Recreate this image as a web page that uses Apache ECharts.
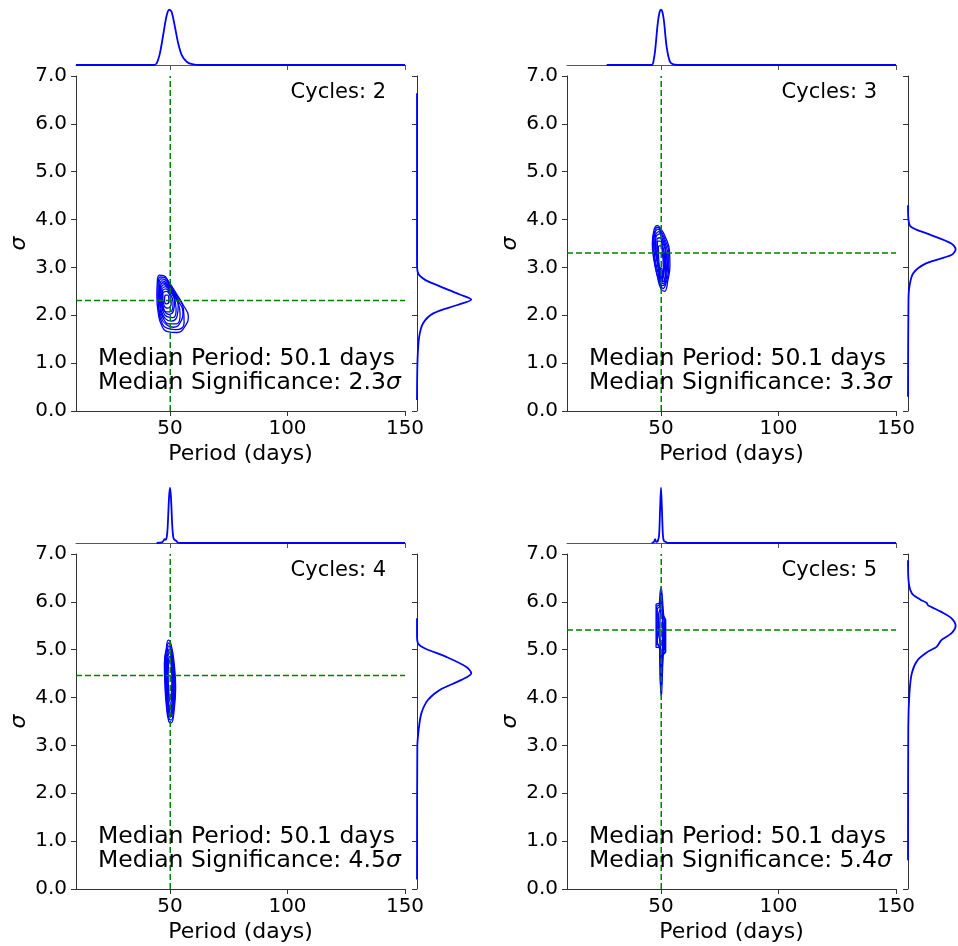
<!DOCTYPE html>
<html>
<head>
<meta charset="utf-8">
<script src="https://cdn.jsdelivr.net/npm/echarts@6/dist/echarts.min.js"></script>
<style>
html, body { margin: 0; padding: 0; background: #fff; }
#content { width: 958px; height: 946px; }
</style>
</head>
<body>
<div id="content"></div>
<script>
// ---- data ----
var periodTicks = [50, 100, 150];
var cycles = [2, 3, 4, 5];
var medianPeriod = [50.1, 50.1, 50.1, 50.1];
var medianSigma = [2.31, 3.30, 4.46, 5.41];
var periodText = ['50.1', '50.1', '50.1', '50.1'];
var sigmaText = ['2.3', '3.3', '4.5', '5.4'];

// marginal KDE of period, [period, density / peak]
var periodKde2 = [[10,0],[42.9,0],[44.3,0.03],[45.7,0.21],[47.2,0.57],[48.6,0.9],[49.7,1],[50.7,0.96],[52.1,0.69],[53.5,0.39],[55,0.18],[57.1,0.06],[59.9,0.01],[63,0],[150,0]];
var periodKde3 = [[26.9,0],[46,0],[47,0.12],[47.6,0.3],[48.6,0.75],[49.4,0.96],[50,1],[50.7,0.94],[51.3,0.78],[52.4,0.33],[53.8,0.06],[55.2,0.01],[57,0],[150,0]];
var periodKde4 = [[44.3,0],[46.5,0.01],[47.2,0.04],[47.7,0.07],[48.2,0.06],[48.6,0.1],[49,0.28],[49.6,0.83],[50,1],[50.4,0.83],[51,0.28],[51.4,0.1],[51.7,0.07],[52.2,0.05],[52.6,0.04],[53.5,0.005],[55,0],[150,0]];
var periodKde5 = [[46,0],[47,0.02],[47.5,0.07],[48,0.02],[48.6,0.03],[49.2,0.15],[49.6,0.6],[50,1],[50.4,0.6],[50.8,0.15],[51.2,0.04],[52,0.02],[53,0],[150,0]];

// marginal KDE of sigma, [sigma, density / peak]
var sigmaKde2 = [[0.23,0],[1.07,0.01],[1.55,0.04],[1.83,0.11],[2.04,0.3],[2.21,0.73],[2.33,1],[2.43,0.8],[2.53,0.58],[2.64,0.35],[2.74,0.15],[2.88,0.02],[3.1,0],[6.64,0]];
var sigmaKde3 = [[0.3,0],[2.32,0.01],[2.6,0.03],[2.88,0.11],[3.09,0.39],[3.26,0.91],[3.38,1],[3.5,0.91],[3.71,0.39],[3.85,0.06],[4.0,0.01],[4.3,0]];
var sigmaKde4 = [[0.2,0],[2.97,0.006],[3.32,0.03],[3.67,0.08],[3.95,0.2],[4.16,0.42],[4.37,0.82],[4.51,1],[4.64,0.91],[4.85,0.54],[5.03,0.14],[5.13,0.02],[5.3,0],[5.66,0]];
var sigmaKde5 = [[0.6,0],[3.39,0.006],[4.09,0.03],[4.51,0.08],[4.78,0.2],[4.96,0.42],[5.06,0.6],[5.2,0.7],[5.34,0.91],[5.5,1],[5.66,0.91],[5.79,0.7],[5.93,0.42],[5.98,0.39],[6.04,0.27],[6.18,0.08],[6.46,0.01],[6.87,0]];

// 2D KDE contour rings, [period, sigma]
var contours2 = [
  [[44.6,2.70],[45.5,2.84],[47.3,2.83],[49.5,2.70],[52.5,2.47],[55.8,2.20],[57.8,1.98],[56.5,1.78],[53,1.64],[49,1.66],[46.5,1.78],[45,2.05],[44.4,2.40],[44.6,2.70]],
  [[45,2.68],[45.8,2.80],[47.6,2.79],[50,2.63],[53,2.39],[55.7,2.14],[56,1.84],[52.2,1.70],[48.7,1.73],[46.4,1.86],[45.1,2.15],[44.8,2.45],[45,2.68]],
  [[45.3,2.65],[46.2,2.76],[48,2.74],[50.5,2.56],[53.5,2.30],[55.5,2.08],[54.5,1.86],[51.5,1.75],[48.5,1.80],[46.3,1.95],[45.2,2.25],[45.3,2.65]],
  [[45.6,2.62],[46.6,2.72],[48.5,2.68],[51,2.49],[53.5,2.25],[54.3,2.02],[52.8,1.82],[49.8,1.82],[47.2,1.93],[45.7,2.18],[45.5,2.40],[45.6,2.62]],
  [[45.9,2.60],[47,2.68],[49,2.62],[51.5,2.42],[53.5,2.20],[53,1.98],[50.5,1.88],[48,1.93],[46.3,2.10],[45.8,2.35],[45.9,2.60]],
  [[46.2,2.58],[47.5,2.64],[49.5,2.56],[51.8,2.36],[52.6,2.12],[51.3,1.95],[48.7,1.97],[46.8,2.12],[46.1,2.35],[46.2,2.58]],
  [[46.5,2.55],[48,2.60],[50,2.50],[52,2.30],[51.5,2.10],[49.5,2.02],[47.5,2.10],[46.5,2.30],[46.5,2.55]],
  [[46.8,2.52],[48.2,2.55],[50,2.45],[51.3,2.27],[50.5,2.08],[48.5,2.07],[47.1,2.18],[46.7,2.35],[46.8,2.52]],
  [[47,2.48],[48.5,2.50],[50,2.40],[50.5,2.25],[49,2.15],[47.5,2.20],[47,2.35],[47,2.48]],
  [[47.8,2.42],[49,2.42],[49.5,2.30],[48.5,2.24],[47.7,2.30],[47.8,2.42]]
];
var contours3 = [
  [[47.2,3.82],[48.4,3.88],[50,3.80],[52,3.62],[53.6,3.35],[53.8,3.05],[53,2.75],[51.5,2.50],[50,2.55],[48.5,2.80],[47,3.15],[46.3,3.50],[47.2,3.82]],
  [[47.4,3.78],[48.5,3.84],[50.1,3.75],[51.9,3.56],[53.3,3.30],[53.3,3.00],[52.3,2.70],[50.9,2.56],[49.2,2.72],[47.7,3.00],[46.6,3.50],[47.4,3.78]],
  [[47.6,3.75],[48.7,3.80],[50.2,3.70],[51.8,3.50],[52.9,3.25],[52.7,2.95],[51.6,2.65],[50.3,2.62],[48.8,2.88],[47.4,3.20],[46.9,3.50],[47.6,3.75]],
  [[47.8,3.70],[49,3.75],[50.4,3.62],[51.9,3.40],[52.5,3.12],[52,2.82],[50.9,2.66],[49.6,2.80],[48.4,3.10],[47.3,3.50],[47.8,3.70]],
  [[48,3.66],[49.3,3.70],[50.6,3.55],[51.9,3.30],[52,3.00],[51.3,2.72],[50.2,2.70],[49.2,2.95],[48,3.25],[47.6,3.50],[48,3.66]],
  [[48.3,3.60],[49.5,3.62],[50.7,3.45],[51.6,3.18],[51.2,2.85],[50.1,2.74],[49.2,2.98],[48.2,3.28],[48.3,3.60]],
  [[48.5,3.55],[49.6,3.55],[50.8,3.35],[51.3,3.05],[50.8,2.80],[50,2.78],[49.3,3.00],[48.4,3.30],[48.5,3.55]],
  [[48.9,3.45],[49.8,3.45],[50.7,3.25],[51,3.00],[50.6,2.84],[49.8,2.86],[49.1,3.10],[48.9,3.45]],
  [[49.7,3.00],[50.5,2.95],[50.8,2.78],[50.3,2.72],[49.7,2.80],[49.7,3.00]],
  [[50,2.85],[50.5,2.82],[50.4,2.75],[50,2.77],[50,2.85]]
];
var contours4 = [
  [[48.5,5.05],[49.3,5.20],[50.5,5.10],[51.8,4.70],[52.4,4.20],[51.8,3.75],[50.5,3.47],[49.5,3.50],[48.5,3.80],[47.8,4.30],[47.6,4.70],[48.5,5.05]],
  [[48.6,5.00],[49.4,5.14],[50.5,5.02],[51.7,4.65],[52.1,4.20],[51.6,3.78],[50.5,3.53],[49.5,3.57],[48.6,3.87],[48,4.35],[47.9,4.72],[48.6,5.00]],
  [[48.8,4.95],[49.5,5.08],[50.5,4.95],[51.5,4.60],[51.8,4.20],[51.3,3.80],[50.4,3.60],[49.6,3.65],[48.8,3.95],[48.2,4.40],[48.2,4.75],[48.8,4.95]],
  [[49,4.90],[49.7,5.01],[50.6,4.88],[51.4,4.52],[51.5,4.15],[51,3.80],[50.1,3.68],[49.3,3.85],[48.5,4.40],[48.5,4.75],[49,4.90]],
  [[49.1,4.85],[49.8,4.95],[50.6,4.80],[51.2,4.45],[51.2,4.10],[50.6,3.80],[49.8,3.75],[49.1,4.05],[48.7,4.45],[49.1,4.85]],
  [[49.3,4.78],[49.9,4.86],[50.6,4.70],[51,4.38],[50.8,4.05],[50.2,3.88],[49.5,4.10],[49,4.50],[49.3,4.78]],
  [[49.4,4.70],[50,4.78],[50.6,4.60],[50.8,4.30],[50.4,4.00],[49.8,3.95],[49.3,4.20],[49.2,4.50],[49.4,4.70]],
  [[49.8,3.85],[50.4,3.80],[50.5,3.65],[50,3.60],[49.7,3.70],[49.8,3.85]]
];
var contours5 = [
  [[49.6,6.20],[50.1,6.32],[50.7,6.00],[51.2,5.70],[52,5.62],[52,4.95],[51,4.90],[50.6,4.50],[50.2,4.02],[49.8,4.20],[49.5,4.80],[49.3,5.05],[47.9,5.05],[47.9,5.95],[49.2,5.97],[49.6,6.20]],
  [[49.65,6.12],[50.15,6.20],[50.6,5.90],[51.3,5.63],[51.8,5.58],[51.8,4.97],[50.9,4.92],[50.45,4.45],[50.05,4.20],[49.7,4.40],[49.5,4.90],[49,5.10],[48.2,5.10],[48.2,5.90],[49.3,5.94],[49.65,6.12]],
  [[49.7,6.05],[50.2,6.10],[50.6,5.80],[51.5,5.55],[51.5,5.00],[50.7,4.95],[50.3,4.40],[49.9,4.50],[49.6,5.00],[48.5,5.15],[48.4,5.85],[49.4,5.90],[49.7,6.05]],
  [[49.75,5.95],[50.25,5.98],[50.6,5.68],[51.1,5.50],[51.1,5.02],[50.5,4.90],[50.2,4.60],[49.85,4.75],[49.5,5.20],[49,5.30],[49,5.75],[49.6,5.85],[49.75,5.95]],
  [[49.8,5.85],[50.3,5.85],[50.6,5.55],[50.6,5.05],[50.2,4.80],[49.8,5.00],[49.5,5.50],[49.8,5.85]]
];

var periodKde = [periodKde2, periodKde3, periodKde4, periodKde5];
var sigmaKde = [sigmaKde2, sigmaKde3, sigmaKde4, sigmaKde5];
var contours = [contours2, contours3, contours4, contours5];

// ---- layout ----
var FONT = 'DejaVu Sans';
var W = 329, H = 335;
var panelPos = [[76, 76], [567, 76], [76, 554], [567, 554]];
var spine = '#333';

var myChart = echarts.init(document.getElementById('content'));

var grids = [], xAxes = [], yAxes = [], series = [], texts = [];

for (var p = 0; p < 4; p++) {
    var l = panelPos[p][0], t = panelPos[p][1];
    var gMain = grids.length;

    // main panel
    grids.push({ left: l, top: t, width: W, height: H });
    xAxes.push({
        gridIndex: gMain, type: 'value', min: 10, max: 150,
        name: 'Period (days)', nameLocation: 'middle', nameGap: 32,
        nameTextStyle: { fontFamily: FONT, fontSize: 22, color: '#000' },
        axisLine: { show: true, lineStyle: { color: spine, width: 1 } },
        axisTick: { show: true, length: 5, customValues: periodTicks, lineStyle: { color: spine } },
        axisLabel: { customValues: periodTicks, fontFamily: FONT, fontSize: 20, color: '#000', margin: 8 },
        splitLine: { show: false }
    });
    yAxes.push({
        gridIndex: gMain, type: 'value', min: 0, max: 7, interval: 1,
        name: 'σ', nameLocation: 'middle', nameGap: 46, nameRotate: 90,
        nameTextStyle: { fontFamily: FONT, fontSize: 22, fontStyle: 'italic', color: '#000' },
        axisLine: { show: true, lineStyle: { color: spine, width: 1 } },
        axisTick: { show: true, length: 5, lineStyle: { color: spine } },
        axisLabel: {
            fontFamily: FONT, fontSize: 20, color: '#000', margin: 9,
            showMinLabel: true, showMaxLabel: true,
            formatter: function (v) { return v.toFixed(1); }
        },
        splitLine: { show: false }
    });

    // top marginal
    var gTop = grids.length;
    grids.push({ left: l, top: t - 69, width: W, height: 58 });
    xAxes.push({
        gridIndex: gTop, type: 'value', min: 10, max: 150,
        axisLine: { show: true, lineStyle: { color: '#555', width: 1 } },
        axisTick: { show: true, length: 5, customValues: periodTicks, lineStyle: { color: '#555' } },
        axisLabel: { show: false }, splitLine: { show: false }
    });
    yAxes.push({ gridIndex: gTop, type: 'value', min: 0, max: 1.05, show: false, splitLine: { show: false } });

    // right marginal
    var gRight = grids.length;
    grids.push({ left: l + 341, top: t, width: 57, height: H });
    xAxes.push({ gridIndex: gRight, type: 'value', min: 0, max: 1.05, show: false, splitLine: { show: false } });
    yAxes.push({
        gridIndex: gRight, type: 'value', min: 0, max: 7, interval: 1, position: 'left',
        axisLine: { show: true, lineStyle: { color: spine, width: 1 } },
        axisTick: { show: true, length: 5, lineStyle: { color: spine } },
        axisLabel: { show: false }, splitLine: { show: false }
    });

    // contours
    var rings = contours[p];
    for (var r = 0; r < rings.length; r++) {
        series.push({
            type: 'line', xAxisIndex: gMain, yAxisIndex: gMain,
            data: rings[r], symbol: 'none', smooth: p == 3 ? 0.25 : 0.5,
            lineStyle: { color: '#0000ff', width: 1.3 }, z: 2
        });
    }

    // median lines
    series.push({
        type: 'line', xAxisIndex: gMain, yAxisIndex: gMain, symbol: 'none',
        data: [[medianPeriod[p], 0], [medianPeriod[p], 7]],
        lineStyle: { color: '#008000', width: 1.5, type: [6, 3] }, z: 3
    });
    series.push({
        type: 'line', xAxisIndex: gMain, yAxisIndex: gMain, symbol: 'none',
        data: [[10, medianSigma[p]], [150, medianSigma[p]]],
        lineStyle: { color: '#008000', width: 1.5, type: [6, 3] }, z: 3
    });

    // marginal curves
    series.push({
        type: 'line', xAxisIndex: gTop, yAxisIndex: gTop, symbol: 'none',
        data: periodKde[p], smooth: 0.3,
        lineStyle: { color: '#0000ff', width: 1.8 }, z: 3
    });
    series.push({
        type: 'line', xAxisIndex: gRight, yAxisIndex: gRight, symbol: 'none',
        data: sigmaKde[p], encode: { x: 1, y: 0 }, smooth: 0.3,
        lineStyle: { color: '#0000ff', width: 1.8 }, z: 3
    });

    // annotations
    texts.push({
        type: 'text', z: 10,
        style: {
            x: l + 310, y: t + 17, text: 'Cycles: ' + cycles[p],
            fontFamily: FONT, fontSize: 21, fill: '#000',
            textAlign: 'right', textVerticalAlign: 'middle'
        }
    });
    texts.push({
        type: 'text', z: 10,
        style: {
            x: l + 22, y: t + 283, text: 'Median Period: ' + periodText[p] + ' days',
            fontFamily: FONT, fontSize: 23.5, fill: '#000',
            textAlign: 'left', textVerticalAlign: 'middle'
        }
    });
    texts.push({
        type: 'text', z: 10,
        style: {
            x: l + 22, y: t + 307, text: 'Median Significance: ' + sigmaText[p] + '{s|σ}',
            fontFamily: FONT, fontSize: 23.5, fill: '#000',
            textAlign: 'left', textVerticalAlign: 'middle',
            rich: { s: { fontFamily: FONT, fontSize: 23.5, fontStyle: 'italic', fill: '#000' } }
        }
    });
}

var option = {
    animation: false,
    backgroundColor: '#fff',
    grid: grids,
    xAxis: xAxes,
    yAxis: yAxes,
    series: series,
    graphic: texts
};
myChart.setOption(option);
</script>
</body>
</html>
